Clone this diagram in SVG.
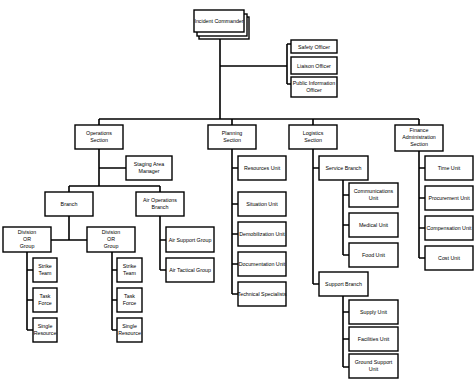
<svg xmlns="http://www.w3.org/2000/svg" width="474" height="379" viewBox="0 0 474 379">
<style>
.b{fill:#fff;stroke:#000;stroke-width:1.4}
.c{fill:none;stroke:#000;stroke-width:1.6}
text{font-family:"Liberation Sans",Arial,sans-serif;font-size:5.3px;fill:#000;text-anchor:middle}
</style>
<rect width="474" height="379" fill="#fff"/>
<g id="connectors">
<path class="c" d="M220,32V119M220,66H287M287,44V84M287,44H291M287,84H291M99,119H419M99,119V125M232,119V125M313,119V125M419,119V125"/>
<path class="c" d="M99,149V186M99,168H126M69,186H160M69,186V192M160,186V192"/>
<path class="c" d="M69,216V240M51,240H87M27,252V330M27,270H33M27,300H33M27,330H33M112,252V330M112,270H117M112,300H117M112,330H117"/>
<path class="c" d="M160,216V270M160,240H166M160,270H166"/>
<path class="c" d="M232,149V294M232,168H238M232,204H238M232,234H238M232,264H238M232,294H238"/>
<path class="c" d="M313,149V284M313,168H319M313,284H319M343,180V255M343,195H349M343,225H349M343,255H349M343,296V367M343,312H349M343,339H349M343,367H349"/>
<path class="c" d="M419,151V258M419,168H425M419,198H425M419,228H425M419,258H425"/>
</g>
<g id="incident-commander">
<rect class="b" x="199" y="17" width="50" height="22"/>
<rect class="b" x="197" y="14" width="50" height="22"/>
<rect class="b" x="194" y="10" width="50" height="22"/>
<text x="219" y="23">Incident Commander</text>
</g>
<g id="safety-officer"><rect class="b" x="291" y="40" width="46" height="13"/><text x="314" y="48.5">Safety Officer</text></g>
<g id="liaison-officer"><rect class="b" x="291" y="57" width="46" height="17"/><text x="314" y="67.5">Liaison Officer</text></g>
<g id="public-information-officer"><rect class="b" x="291" y="77" width="46" height="20"/><text x="314" y="85">Public Information</text><text x="314" y="92">Officer</text></g>
<g id="operations-section"><rect class="b" x="75" y="125" width="48" height="24"/><text x="99" y="135">Operations</text><text x="99" y="142">Section</text></g>
<g id="planning-section"><rect class="b" x="208" y="125" width="48" height="24"/><text x="232" y="135">Planning</text><text x="232" y="142">Section</text></g>
<g id="logistics-section"><rect class="b" x="289" y="125" width="48" height="24"/><text x="313" y="135">Logistics</text><text x="313" y="142">Section</text></g>
<g id="finance-section"><rect class="b" x="395" y="125" width="48" height="26"/><text x="419" y="132">Finance</text><text x="419" y="139">Administration</text><text x="419" y="146">Section</text></g>
<g id="staging-area-manager"><rect class="b" x="126" y="156" width="46" height="24"/><text x="149" y="166">Staging Area</text><text x="149" y="173">Manager</text></g>
<g id="branch"><rect class="b" x="45" y="192" width="48" height="24"/><text x="69" y="206">Branch</text></g>
<g id="air-operations-branch"><rect class="b" x="136" y="192" width="48" height="24"/><text x="160" y="202">Air Operations</text><text x="160" y="209">Branch</text></g>
<g id="division-1"><rect class="b" x="3" y="227" width="48" height="25"/><text x="27" y="234">Division</text><text x="27" y="241">OR</text><text x="27" y="248">Group</text></g>
<g id="division-2"><rect class="b" x="87" y="227" width="48" height="25"/><text x="111" y="234">Division</text><text x="111" y="241">OR</text><text x="111" y="248">Group</text></g>
<g id="strike-team-1"><rect class="b" x="33" y="258" width="24" height="24"/><text x="45" y="268">Strike</text><text x="45" y="275">Team</text></g>
<g id="task-force-1"><rect class="b" x="33" y="288" width="24" height="24"/><text x="45" y="298">Task</text><text x="45" y="305">Force</text></g>
<g id="single-resource-1"><rect class="b" x="33" y="318" width="24" height="24"/><text x="45" y="328">Single</text><text x="45" y="335">Resource</text></g>
<g id="strike-team-2"><rect class="b" x="117" y="258" width="25" height="24"/><text x="129.5" y="268">Strike</text><text x="129.5" y="275">Team</text></g>
<g id="task-force-2"><rect class="b" x="117" y="288" width="25" height="24"/><text x="129.5" y="298">Task</text><text x="129.5" y="305">Force</text></g>
<g id="single-resource-2"><rect class="b" x="117" y="318" width="25" height="24"/><text x="129.5" y="328">Single</text><text x="129.5" y="335">Resource</text></g>
<g id="air-support-group"><rect class="b" x="166" y="227" width="48" height="25"/><text x="190" y="241.5">Air Support Group</text></g>
<g id="air-tactical-group"><rect class="b" x="166" y="258" width="48" height="24"/><text x="190" y="272">Air Tactical Group</text></g>
<g id="resources-unit"><rect class="b" x="238" y="156" width="48" height="24"/><text x="262" y="170">Resources Unit</text></g>
<g id="situation-unit"><rect class="b" x="238" y="192" width="48" height="24"/><text x="262" y="206">Situation Unit</text></g>
<g id="demobilization-unit"><rect class="b" x="238" y="222" width="48" height="24"/><text x="262" y="236">Demobilization Unit</text></g>
<g id="documentation-unit"><rect class="b" x="238" y="252" width="48" height="24"/><text x="262" y="266">Documentation Unit</text></g>
<g id="technical-specialists"><rect class="b" x="238" y="282" width="48" height="24"/><text x="262" y="296">Technical Specialists</text></g>
<g id="service-branch"><rect class="b" x="319" y="156" width="49" height="24"/><text x="343.5" y="170">Service Branch</text></g>
<g id="communications-unit"><rect class="b" x="349" y="183" width="49" height="24"/><text x="373.5" y="193">Communications</text><text x="373.5" y="200">Unit</text></g>
<g id="medical-unit"><rect class="b" x="349" y="213" width="49" height="24"/><text x="373.5" y="227">Medical Unit</text></g>
<g id="food-unit"><rect class="b" x="349" y="243" width="49" height="24"/><text x="373.5" y="257">Food Unit</text></g>
<g id="support-branch"><rect class="b" x="319" y="272" width="49" height="24"/><text x="343.5" y="286">Support Branch</text></g>
<g id="supply-unit"><rect class="b" x="349" y="300" width="49" height="24"/><text x="373.5" y="314">Supply Unit</text></g>
<g id="facilities-unit"><rect class="b" x="349" y="327" width="49" height="24"/><text x="373.5" y="341">Facilities Unit</text></g>
<g id="ground-support-unit"><rect class="b" x="349" y="354" width="49" height="24"/><text x="373.5" y="364">Ground Support</text><text x="373.5" y="371">Unit</text></g>
<g id="time-unit"><rect class="b" x="425" y="156" width="48" height="24"/><text x="449" y="170">Time Unit</text></g>
<g id="procurement-unit"><rect class="b" x="425" y="186" width="48" height="24"/><text x="449" y="200">Procurement Unit</text></g>
<g id="compensation-unit"><rect class="b" x="425" y="216" width="48" height="24"/><text x="449" y="230">Compensation Unit</text></g>
<g id="cost-unit"><rect class="b" x="425" y="246" width="48" height="24"/><text x="449" y="260">Cost Unit</text></g>
</svg>
